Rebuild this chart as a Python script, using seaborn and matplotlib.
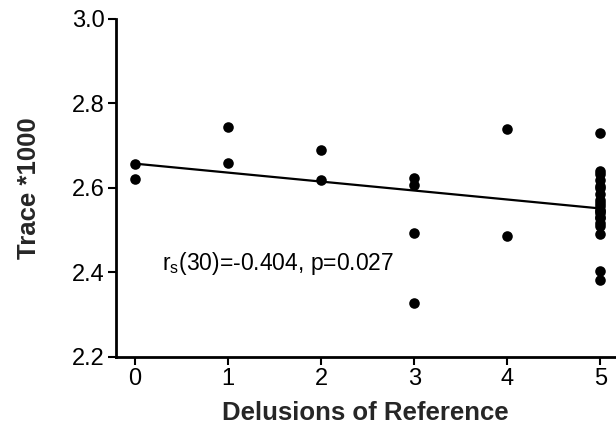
import matplotlib
matplotlib.use("Agg")
import matplotlib.pyplot as plt
import seaborn as sns
import pandas as pd

# Data
delusions = [0, 0,
             1, 1,
             2, 2,
             3, 3, 3, 3,
             4, 4,
             5, 5, 5, 5, 5, 5, 5, 5, 5, 5, 5, 5, 5, 5, 5, 5, 5, 5, 5, 5]
trace = [2.657, 2.621,
         2.743, 2.659,
         2.690, 2.618,
         2.623, 2.607, 2.494, 2.327,
         2.740, 2.486,
         2.729, 2.639, 2.632, 2.619, 2.605, 2.600, 2.585, 2.572, 2.565, 2.556,
         2.548, 2.545, 2.540, 2.532, 2.528, 2.518, 2.510, 2.491, 2.404, 2.381]
x_ticks = [0, 1, 2, 3, 4, 5]
y_ticks = [2.2, 2.4, 2.6, 2.8, 3.0]
annotation = "r$_{\\rm s}$(30)=-0.404, p=0.027"

df = pd.DataFrame({"Delusions of Reference": delusions, "Trace *1000": trace})

sns.set_style("ticks")
plt.rcParams["font.family"] = ["Liberation Sans", "DejaVu Sans"]
plt.rcParams["mathtext.fontset"] = "custom"
plt.rcParams["mathtext.rm"] = "Liberation Sans"
plt.rcParams["mathtext.it"] = "Liberation Sans:italic"

fig = plt.figure(figsize=(6.16, 4.30), dpi=100)
ax = fig.add_axes([0.188, 0.170, 0.811, 0.786])

sns.scatterplot(data=df, x="Delusions of Reference", y="Trace *1000", ax=ax,
                color="black", s=58, edgecolor="black", linewidth=0, zorder=3)
sns.regplot(data=df, x="Delusions of Reference", y="Trace *1000", ax=ax,
            scatter=False, ci=None, color="black", line_kws={"linewidth": 1.6})

ax.set_xlim(-0.204, 5.16)
ax.set_ylim(2.2, 3.0)
ax.set_xticks(x_ticks)
ax.set_yticks(y_ticks)
ax.set_yticklabels([f"{v:.1f}" for v in y_ticks])
ax.tick_params(axis="both", labelsize=17, width=1.5, length=6, color="black",
               labelcolor="black", direction="out", pad=2)
for s in ["left", "bottom"]:
    ax.spines[s].set_linewidth(2)
    ax.spines[s].set_color("black")
sns.despine(ax=ax)

ax.set_xlabel("Delusions of Reference", fontsize=18.5, fontweight="bold", labelpad=8)
ax.set_ylabel("Trace *1000", fontsize=18.5, fontweight="bold", labelpad=22)

ax.text(0.29, 2.422, annotation, fontsize=16.5, va="center", ha="left", color="black")

fig.savefig("out.png", dpi=100)
